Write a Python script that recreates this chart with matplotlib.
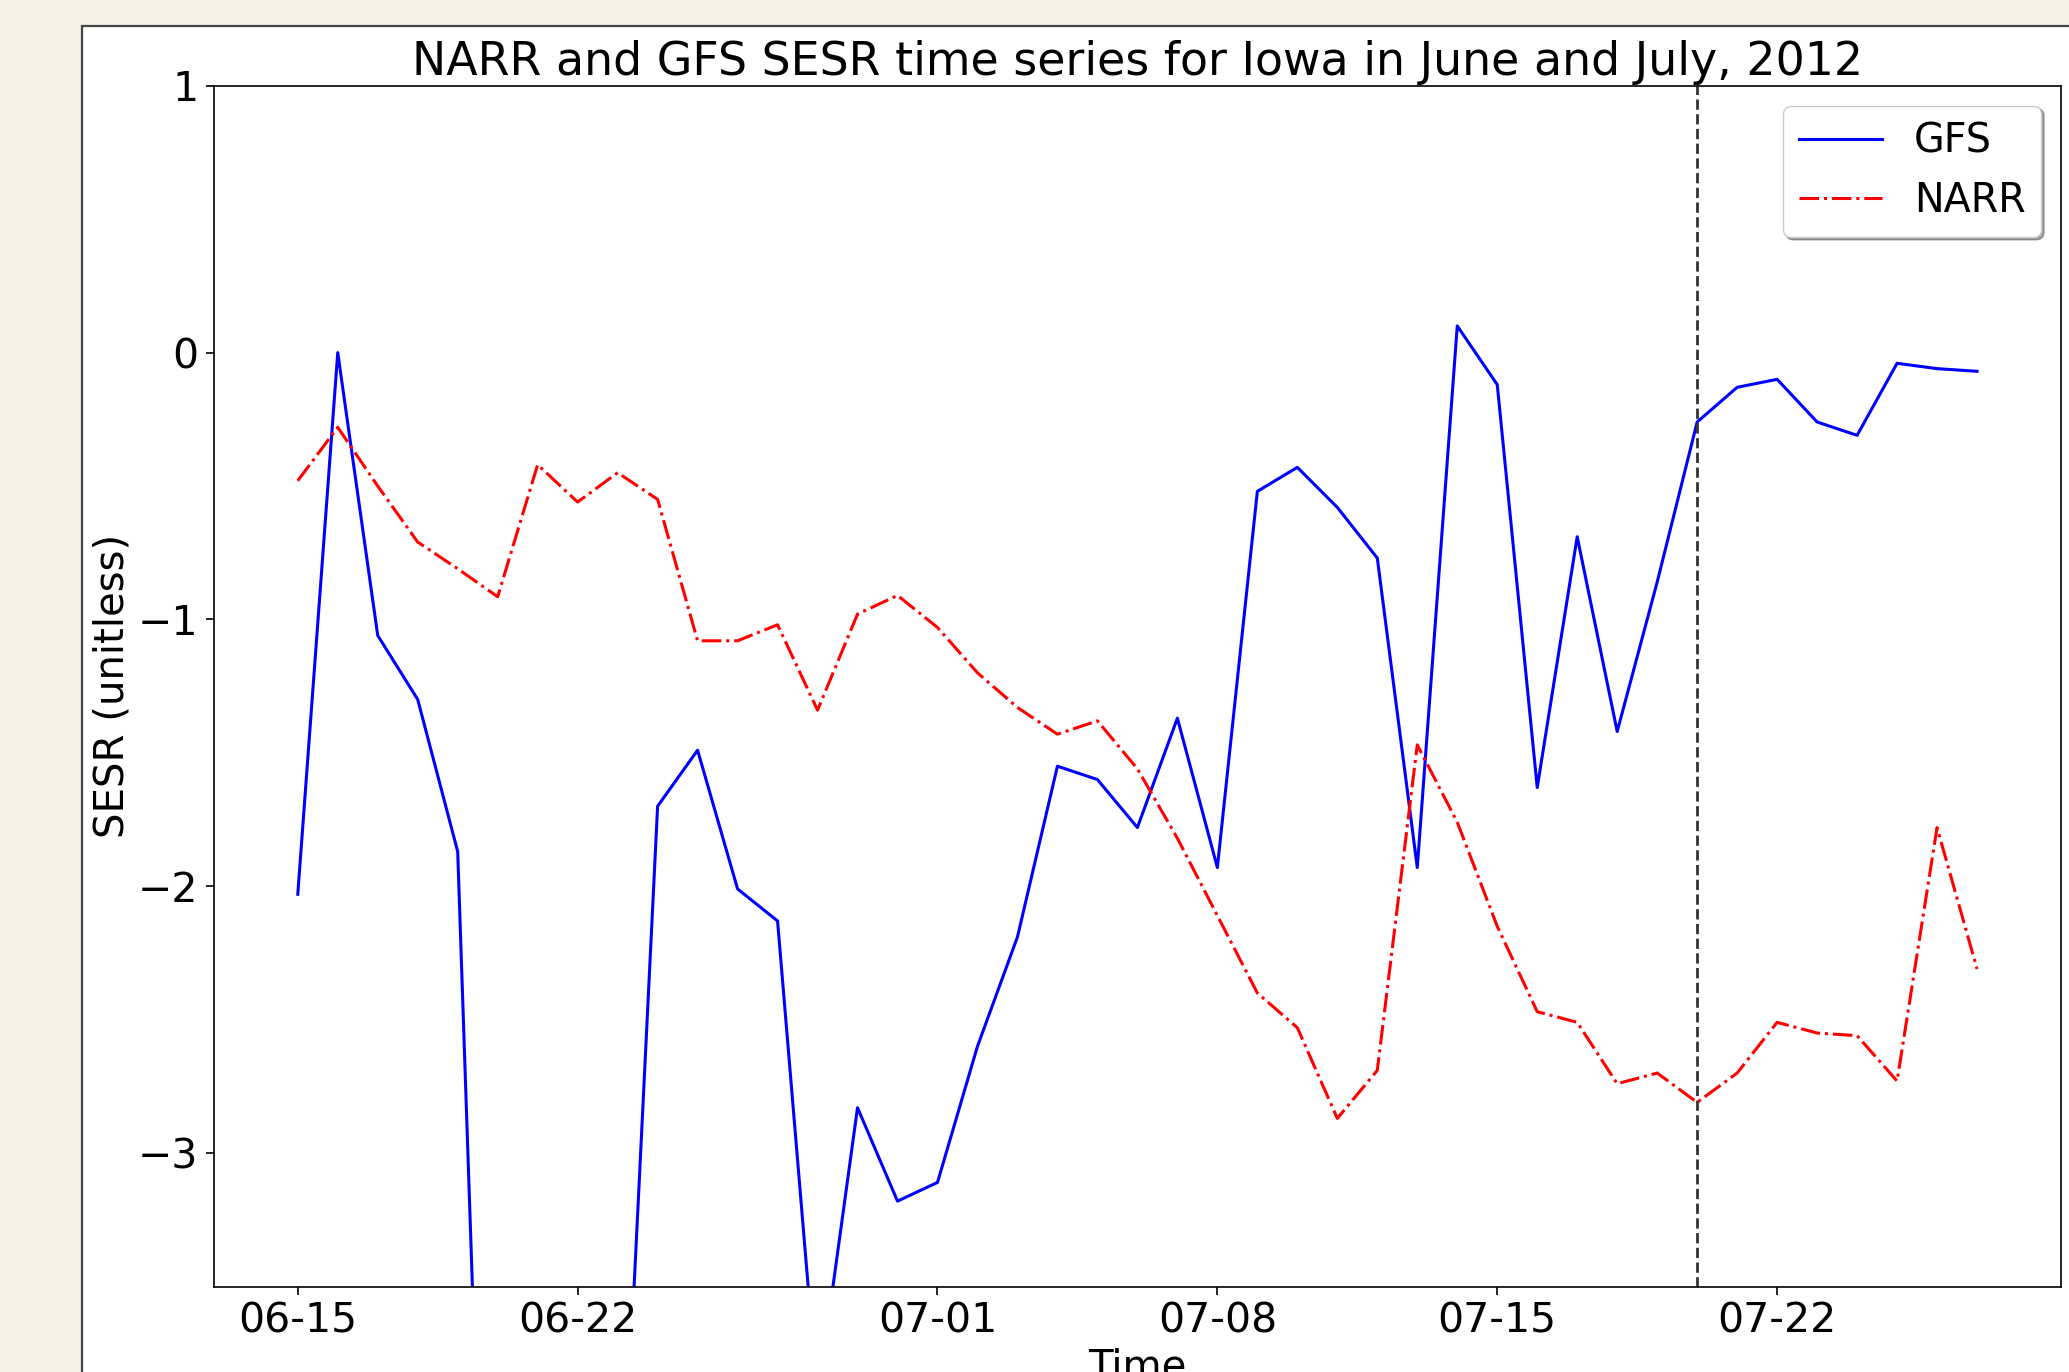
import matplotlib
matplotlib.use("Agg")
import matplotlib.pyplot as plt
import matplotlib.dates as mdates
from matplotlib.patches import Rectangle
import pandas as pd

# valores (SESR diario, 15-jun a 27-jul de 2012)
fechas = pd.date_range("2012-06-15", "2012-07-27", freq="D")
gfs = [-2.03, 0.00, -1.06, -1.30, -1.87, -6.30, -6.10, -5.40, -4.76, -1.70,
       -1.49, -2.01, -2.13, -3.92, -2.83, -3.18, -3.11, -2.60, -2.19, -1.55,
       -1.60, -1.78, -1.37, -1.93, -0.52, -0.43, -0.58, -0.77, -1.93, 0.10,
       -0.12, -1.63, -0.69, -1.42, -0.86, -0.26, -0.13, -0.10, -0.26, -0.31,
       -0.04, -0.06, -0.07]
narr = [-0.48, -0.28, -0.50, -0.71, -0.81, -0.915, -0.42, -0.56, -0.45, -0.55,
        -1.08, -1.08, -1.02, -1.34, -0.98, -0.91, -1.03, -1.20, -1.33, -1.43,
        -1.38, -1.56, -1.82, -2.11, -2.40, -2.53, -2.87, -2.69, -1.47, -1.76,
        -2.15, -2.47, -2.51, -2.74, -2.70, -2.81, -2.70, -2.51, -2.55, -2.56,
        -2.73, -1.78, -2.31]
fecha_corte = pd.Timestamp("2012-07-20")

W, H = 2069, 1372
FONDO = "#f9f1e6"

plt.rcParams.update({
    "font.family": "DejaVu Sans",
    "font.size": 29.5,
    "axes.linewidth": 1.2,
    "xtick.major.size": 6,
    "ytick.major.size": 6,
    "xtick.major.width": 1.2,
    "ytick.major.width": 1.2,
    "xtick.major.pad": 5,
    "ytick.major.pad": 5,
})

fig = plt.figure(figsize=(W / 100, H / 100), dpi=100, facecolor=FONDO)
# hoja blanca de la figura, recortada a la derecha y abajo
hoja = Rectangle((82 / W, -0.05), 1.2, 1.05 - 26 / H,
                 transform=fig.transFigure, facecolor="white",
                 edgecolor="#444444", lw=1.6, zorder=-10)
fig.patches.append(hoja)

ax = fig.add_axes([213.8 / W, (H - 1286.5) / H,
                   (2061 - 213.8) / W, (1286.5 - 85.8) / H])
ax.set_zorder(1)
ax.plot(fechas, gfs, "b-", lw=2.2, label="GFS")
ax.plot(fechas, narr, "r-.", lw=2.2, label="NARR")
ax.axvline(fecha_corte, color="0.2", ls="--", lw=2.0)

ax.set_ylim(-3.5, 1)
ax.set_yticks([-3, -2, -1, 0, 1])
ax.xaxis.set_major_locator(mdates.DayLocator(bymonthday=[1, 8, 15, 22]))
ax.xaxis.set_major_formatter(mdates.DateFormatter("%m-%d"))

ax.set_title("NARR and GFS SESR time series for Iowa in June and July, 2012",
             fontsize=33, pad=7.5)
ax.set_xlabel("Time", fontsize=29)
ax.set_ylabel("SESR (unitless)", fontsize=29)
ax.legend(loc="upper right", shadow=True, fontsize=28.5, handlelength=2.1)

fig.savefig("out.png", dpi=100, facecolor=FONDO)
